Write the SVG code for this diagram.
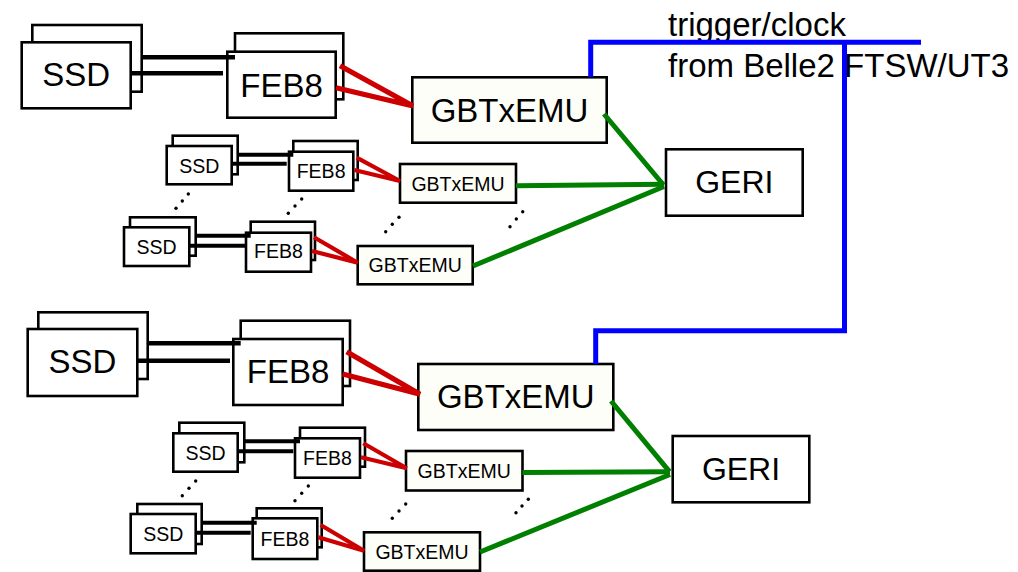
<svg xmlns="http://www.w3.org/2000/svg" width="1018" height="572" viewBox="0 0 1018 572">
  <style>
    text { font-family: "Liberation Sans", Arial, sans-serif; fill: #000; text-anchor: middle; }
    .box { fill: #fff; stroke: #000; stroke-width: 2.6; }
    .emu { fill: #fefef9; stroke: #000; stroke-width: 2.6; }
    .big { font-size: 33px; }
    .small { font-size: 19.5px; }
    .geri { font-size: 32px; }
    .label { font-size: 33px; text-anchor: start; }
    .cable { stroke: #000; fill: none; }
    .red { stroke: #cc0000; fill: none; }
    .green { stroke: #007f00; stroke-width: 5; fill: none; }
    .blue { stroke: #0000ff; stroke-width: 5; fill: none; }
    .dots circle { fill: #000; }
  </style>

  <!-- ===== upper readout chain ===== -->
  <g id="ssd-a1">
    <rect class="box" x="32.3" y="25" width="109.4" height="66.7"/>
    <rect class="box" x="21.7" y="42.3" width="109" height="66"/>
    <text class="big" x="76.2" y="86.3">SSD</text>
  </g>
  <g id="feb8-a1">
    <rect class="box" x="235" y="33.3" width="108.3" height="66"/>
    <rect class="box" x="227.3" y="51.7" width="108.4" height="66"/>
    <text class="big" x="281.5" y="96.7">FEB8</text>
  </g>
  <g id="gbtx-a1">
    <rect class="emu" x="412.3" y="77.3" width="194.4" height="65.4"/>
    <text class="big" x="509.5" y="121.7">GBTxEMU</text>
  </g>

  <g id="ssd-a2">
    <rect class="box" x="172.7" y="135.7" width="65" height="38.6"/>
    <rect class="box" x="166.7" y="146" width="65" height="38.3"/>
    <text class="small" x="199.2" y="172.8">SSD</text>
  </g>
  <g id="feb8-a2">
    <rect class="box" x="293.3" y="141" width="64.4" height="39"/>
    <rect class="box" x="289" y="151.7" width="64.3" height="39"/>
    <text class="small" x="321.1" y="178">FEB8</text>
  </g>
  <g id="gbtx-a2">
    <rect class="emu" x="400" y="164" width="116" height="38.7"/>
    <text class="small" x="458" y="190.5">GBTxEMU</text>
  </g>

  <g id="ssd-a3">
    <rect class="box" x="130" y="217.3" width="65.7" height="38.4"/>
    <rect class="box" x="124" y="227.3" width="65.3" height="38.7"/>
    <text class="small" x="156.6" y="253.6">SSD</text>
  </g>
  <g id="feb8-a3">
    <rect class="box" x="250.7" y="221.7" width="64.3" height="38.3"/>
    <rect class="box" x="246" y="232.7" width="65" height="39"/>
    <text class="small" x="278.5" y="258.3">FEB8</text>
  </g>
  <g id="gbtx-a3">
    <rect class="emu" x="357.7" y="246" width="115" height="38.3"/>
    <text class="small" x="415.2" y="271.7">GBTxEMU</text>
  </g>

  <g id="geri-a">
    <rect class="box" x="666" y="149.3" width="136.7" height="66.4"/>
    <text class="geri" x="734.3" y="192.7">GERI</text>
  </g>

  <!-- ===== lower readout chain ===== -->
  <g id="ssd-b1">
    <rect class="box" x="38.3" y="312.3" width="109.4" height="66.7"/>
    <rect class="box" x="27.7" y="329" width="109.6" height="67"/>
    <text class="big" x="82.5" y="373.3">SSD</text>
  </g>
  <g id="feb8-b1">
    <rect class="box" x="240.7" y="320.7" width="109.3" height="65.3"/>
    <rect class="box" x="233.3" y="339" width="109.4" height="66"/>
    <text class="big" x="288" y="382.7">FEB8</text>
  </g>
  <g id="gbtx-b1">
    <rect class="emu" x="418.3" y="364" width="195" height="66"/>
    <text class="big" x="515.8" y="408.3">GBTxEMU</text>
  </g>

  <g id="ssd-b2">
    <rect class="box" x="179.3" y="422.7" width="65" height="39.6"/>
    <rect class="box" x="173.3" y="433.3" width="64.4" height="38.4"/>
    <text class="small" x="205.5" y="459.7">SSD</text>
  </g>
  <g id="feb8-b2">
    <rect class="box" x="300" y="427.7" width="65" height="39"/>
    <rect class="box" x="295" y="438.3" width="65" height="39.4"/>
    <text class="small" x="327.5" y="465">FEB8</text>
  </g>
  <g id="gbtx-b2">
    <rect class="emu" x="406" y="451" width="116.5" height="39.5"/>
    <text class="small" x="464.2" y="477.7">GBTxEMU</text>
  </g>

  <g id="ssd-b3">
    <rect class="box" x="137.3" y="504" width="64.4" height="40"/>
    <rect class="box" x="130.7" y="514" width="65" height="39.3"/>
    <text class="small" x="163.2" y="540.5">SSD</text>
  </g>
  <g id="feb8-b3">
    <rect class="box" x="256.7" y="508.3" width="65" height="39"/>
    <rect class="box" x="252.7" y="518.3" width="64.6" height="40.7"/>
    <text class="small" x="285" y="546">FEB8</text>
  </g>
  <g id="gbtx-b3">
    <rect class="emu" x="364" y="532.3" width="116" height="38.4"/>
    <text class="small" x="422" y="559">GBTxEMU</text>
  </g>

  <g id="geri-b">
    <rect class="box" x="672.7" y="436" width="136.6" height="66.3"/>
    <text class="geri" x="741" y="480">GERI</text>
  </g>

  <!-- trigger / clock distribution label -->
  <g id="trigger-label">
    <text class="label" x="668" y="36">trigger/clock</text>
    <text class="label" x="668" y="77.3">from Belle2 FTSW/UT3</text>
  </g>

  <!-- ===== connectors ===== -->
  <g id="connectors">
    <!-- SSD to FEB8 cables -->
    <g class="cable" stroke-width="4.6">
      <line x1="141.7" y1="57.3" x2="235" y2="57.3"/>
      <line x1="130.7" y1="73.3" x2="223" y2="73.3"/>
      <line x1="147.7" y1="343.3" x2="240.7" y2="343.3"/>
      <line x1="137.3" y1="360.7" x2="230" y2="360.7"/>
    </g>
    <g class="cable" stroke-width="4">
      <line x1="237.7" y1="154.7" x2="293.3" y2="154.7"/>
      <line x1="231.7" y1="163.7" x2="286.7" y2="163.7"/>
      <line x1="195.7" y1="235.7" x2="250.7" y2="235.7"/>
      <line x1="189.3" y1="245.7" x2="245" y2="245.7"/>
      <line x1="244.3" y1="441.3" x2="300" y2="441.3"/>
      <line x1="237.7" y1="451.3" x2="293.3" y2="451.3"/>
      <line x1="201.7" y1="522.7" x2="256.7" y2="522.7"/>
      <line x1="195.7" y1="532.7" x2="250.7" y2="532.7"/>
    </g>

    <!-- FEB8 to GBTxEMU links -->
    <g class="red" stroke-width="5.2">
      <polyline points="340,65.7 413,106 336,87.7"/>
      <polyline points="346.7,351.7 420,394.3 342.7,374"/>
    </g>
    <g class="red" stroke-width="4.2">
      <polyline points="356.7,157.7 400,181 354.3,170"/>
      <polyline points="314,237.3 357.7,262.7 312,251"/>
      <polyline points="363.3,443.3 406.7,468.3 361,457.3"/>
      <polyline points="320.7,525 364,550.7 318.3,537.3"/>
    </g>

    <!-- GBTxEMU to GERI links -->
    <g class="green">
      <line x1="604" y1="114" x2="663.5" y2="185"/>
      <line x1="516" y1="185.7" x2="664" y2="184.3"/>
      <line x1="473" y1="266" x2="664" y2="186.5"/>
      <line x1="611" y1="401" x2="669.5" y2="471.7"/>
      <line x1="522.4" y1="472.5" x2="670" y2="471.7"/>
      <line x1="480" y1="552" x2="670" y2="474.5"/>
    </g>

    <!-- trigger / clock line -->
    <g class="blue">
      <path d="M590.7,77 V42.3 H921"/>
      <path d="M844.5,42.3 V330.7 H595.7 V364"/>
    </g>

    <!-- ellipsis dots for repeated chains -->
    <g class="dots">
      <circle cx="188.3" cy="194" r="1.7"/><circle cx="182.3" cy="201" r="1.7"/><circle cx="176" cy="208.3" r="1.7"/>
      <circle cx="301.7" cy="199" r="1.7"/><circle cx="295" cy="206" r="1.7"/><circle cx="288.3" cy="213.3" r="1.7"/>
      <circle cx="399" cy="217.3" r="1.7"/><circle cx="392.3" cy="224.3" r="1.7"/><circle cx="385.7" cy="231.7" r="1.7"/>
      <circle cx="522.7" cy="211.7" r="1.7"/><circle cx="516.3" cy="219" r="1.7"/><circle cx="510" cy="226.7" r="1.7"/>
      <circle cx="195.7" cy="481" r="1.7"/><circle cx="189" cy="488.3" r="1.7"/><circle cx="182.3" cy="495.7" r="1.7"/>
      <circle cx="308.3" cy="486" r="1.7"/><circle cx="301.7" cy="493.3" r="1.7"/><circle cx="295" cy="500.7" r="1.7"/>
      <circle cx="405.7" cy="504" r="1.7"/><circle cx="399" cy="511" r="1.7"/><circle cx="392.3" cy="518.3" r="1.7"/>
      <circle cx="528.3" cy="499.3" r="1.7"/><circle cx="522" cy="506" r="1.7"/><circle cx="516" cy="512.7" r="1.7"/>
    </g>
  </g>
</svg>
